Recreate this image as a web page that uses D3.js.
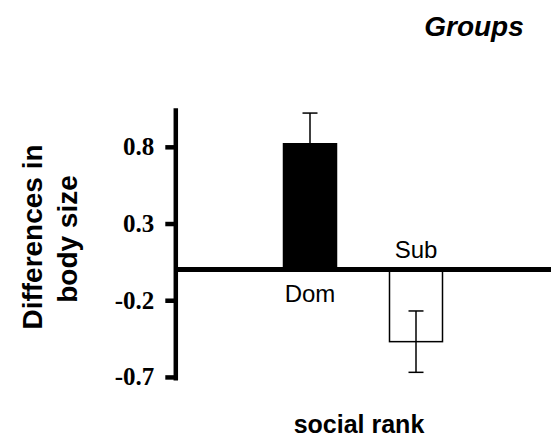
<!DOCTYPE html>
<html>
<head>
<meta charset="utf-8">
<script src="https://cdn.jsdelivr.net/npm/d3@7"></script>
<style>
  body { margin: 0; background: #fff; }
</style>
</head>
<body>
<div id="chart"></div>
<script>
// Data
var categories = ["Dom", "Sub"];
var means = [0.82, -0.47];
var errors = [0.2, 0.2];
var fills = ["#000", "#fff"];
var tickValues = [0.8, 0.3, -0.2, -0.7];
var tickLabels = ["0.8", "0.3", "-0.2", "-0.7"];

var width = 551, height = 439;

var svg = d3.select("#chart")
    .append("svg")
    .attr("width", width)
    .attr("height", height);

// Scales
var x = d3.scaleBand()
    .domain(categories)
    .range([230.5, 495.5])
    .padding(0.5);

var y = d3.scaleLinear()
    .domain([-0.72, 1.055])
    .range([380, 107.7]);

var axisX = 175.3;

// Bars
svg.selectAll("rect.bar")
    .data(categories)
    .enter().append("rect")
    .attr("class", "bar")
    .attr("x", function(d) { return x(d); })
    .attr("width", x.bandwidth())
    .attr("y", function(d, i) { return y(Math.max(0, means[i])); })
    .attr("height", function(d, i) { return Math.abs(y(means[i]) - y(0)); })
    .attr("fill", function(d, i) { return fills[i]; })
    .attr("stroke", "#000")
    .attr("stroke-width", 1.5);

// Error bars
var capW = 15;
categories.forEach(function(c, i) {
    var cx = x(c) + x.bandwidth() / 2;
    var g = svg.append("g").attr("stroke", "#000").attr("stroke-width", 1.5);
    g.append("line")
        .attr("x1", cx).attr("x2", cx)
        .attr("y1", y(means[i] + errors[i]))
        .attr("y2", y(means[i] - errors[i]));
    [means[i] + errors[i], means[i] - errors[i]].forEach(function(v) {
        g.append("line")
            .attr("x1", cx - capW / 2).attr("x2", cx + capW / 2)
            .attr("y1", y(v)).attr("y2", y(v));
    });
});

// Zero line
svg.append("line")
    .attr("x1", axisX)
    .attr("x2", width)
    .attr("y1", y(0))
    .attr("y2", y(0))
    .style("stroke", "#000")
    .style("stroke-width", "5px");

// Y axis
var yAxis = d3.axisLeft(y)
    .tickValues(tickValues)
    .tickFormat(function(d, i) { return tickLabels[i]; })
    .tickSize(10)
    .tickSizeOuter(0)
    .tickPadding(11);

var gy = svg.append("g")
    .attr("transform", "translate(" + axisX + ",0)")
    .call(yAxis);

gy.select(".domain")
    .style("stroke", "#000")
    .style("stroke-width", "4.5px");
gy.selectAll(".tick line")
    .style("stroke", "#000")
    .style("stroke-width", "4.5px");
gy.selectAll(".tick text")
    .attr("fill", "#000")
    .style("font-family", "'Liberation Serif', 'Times New Roman', serif")
    .style("font-weight", "bold")
    .style("font-size", "25px");

// Category labels
svg.append("text")
    .attr("x", x("Dom") + x.bandwidth() / 2)
    .attr("y", 302)
    .attr("text-anchor", "middle")
    .style("font-family", "'Liberation Sans', Arial, sans-serif")
    .style("font-size", "24px")
    .text("Dom");

svg.append("text")
    .attr("x", x("Sub") + x.bandwidth() / 2)
    .attr("y", 258)
    .attr("text-anchor", "middle")
    .style("font-family", "'Liberation Sans', Arial, sans-serif")
    .style("font-size", "24px")
    .text("Sub");

// Title
svg.append("text")
    .attr("x", 474)
    .attr("y", 36)
    .attr("text-anchor", "middle")
    .style("font-family", "'Liberation Sans', Arial, sans-serif")
    .style("font-size", "28px")
    .style("font-weight", "bold")
    .style("font-style", "italic")
    .text("Groups");

// Y axis title
svg.append("text")
    .attr("transform", "translate(42,237) rotate(-90)")
    .attr("text-anchor", "middle")
    .style("font-family", "'Liberation Sans', Arial, sans-serif")
    .style("font-size", "28px")
    .style("font-weight", "bold")
    .text("Differences in");

svg.append("text")
    .attr("transform", "translate(77,239) rotate(-90)")
    .attr("text-anchor", "middle")
    .style("font-family", "'Liberation Sans', Arial, sans-serif")
    .style("font-size", "28px")
    .style("font-weight", "bold")
    .text("body size");

// X axis title
svg.append("text")
    .attr("x", 359)
    .attr("y", 433)
    .attr("text-anchor", "middle")
    .style("font-family", "'Liberation Sans', Arial, sans-serif")
    .style("font-size", "25px")
    .style("font-weight", "bold")
    .text("social rank");
</script>
</body>
</html>
